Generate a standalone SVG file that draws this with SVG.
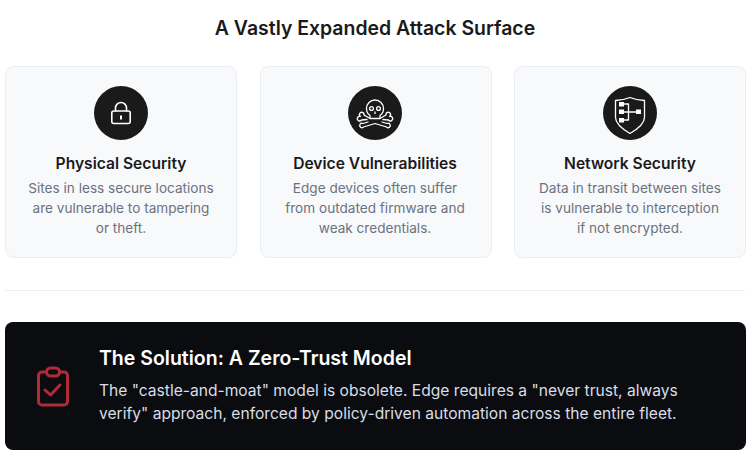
<svg xmlns="http://www.w3.org/2000/svg" width="750" height="452" viewBox="0 0 750 452">
<style>
text{font-family:Inter,"Liberation Sans",sans-serif}
.t{font-size:19.45px;font-weight:600;fill:#1a1a1a;text-anchor:middle}
.h{font-size:15.6px;font-weight:600;fill:#1a1a1a;text-anchor:middle}
.d{font-size:13.6px;fill:#6b7280;text-anchor:middle}
.card{fill:#f8f9fb;stroke:#eaedf1;stroke-width:1}
.disc{fill:#1a1a1a}
.ic{fill:none;stroke:#fff;stroke-width:1.6;stroke-linecap:round;stroke-linejoin:round}
.thin{stroke-width:1.3}
.w{fill:#fff}
.sh{font-size:19.5px;font-weight:600;fill:#fff}
.sd{font-size:15.6px;fill:#d8dde6}
</style>
<rect width="750" height="452" fill="#fff"/>
<text class="t" x="375" y="35">A Vastly Expanded Attack Surface</text>
<g id="card-physical">
<rect class="card" x="5.500" y="66.500" width="231" height="191" rx="8"/>
<circle class="disc" cx="121" cy="113" r="27"/>
<g class="ic"><rect x="111.800" y="111" width="18.400" height="12.500" rx="2"/><path d="M115.500 111v-3a5.500 5.500 0 0 1 11 0v3"/></g>
<rect class="w" x="120" y="115.500" width="2" height="4"/>
<text class="h" x="121" y="169">Physical Security</text>
<text class="d" x="121" y="193">Sites in less secure locations</text>
<text class="d" x="121" y="213">are vulnerable to tampering</text>
<text class="d" x="121" y="233">or theft.</text>
</g>
<g id="card-device">
<rect class="card" x="260.500" y="66.500" width="231" height="191" rx="8"/>
<circle class="disc" cx="375" cy="113" r="27"/>
<g class="ic thin">
<path d="M370 115.500c-2.200-1.500-3.500-4-3.500-7a8.500 8.500 0 0 1 17 0c0 3-1.300 5.500-3.500 7v3h-10z"/>
<circle cx="371.500" cy="108.500" r="1.900"/><circle cx="378.500" cy="108.500" r="1.900"/>
<path d="M375 112v1.500"/>
<path d="M370 118.500l-6-3.500a2.300 2.300 0 1 0-3.500 1.500 2.300 2.300 0 1 0 1 3.500l5.500-.5"/>
<path d="M380 118.500l6-3.500a2.300 2.300 0 1 1 3.500 1.500 2.300 2.300 0 1 1-1 3.500l-5.500-.5"/>
<path d="M368 122l-5 1.500a2.200 2.200 0 1 0 .5 3.500l11.500-3.500 11.500 3.500a2.200 2.200 0 1 0 .5-3.500l-5-1.500"/>
</g>
<text class="h" x="375" y="169">Device Vulnerabilities</text>
<text class="d" x="375" y="193">Edge devices often suffer</text>
<text class="d" x="375" y="213">from outdated firmware and</text>
<text class="d" x="375" y="233">weak credentials.</text>
</g>
<g id="card-network">
<rect class="card" x="514.500" y="66.500" width="231" height="191" rx="8"/>
<circle class="disc" cx="630" cy="113" r="27"/>
<g class="ic thin">
<path d="M630 97.500c5 2 10 3 14.500 3v17c0 6-6 11-14.500 16-8.500-5-14.500-10-14.500-16v-17c4.500 0 9.500-1 14.500-3z"/>
<path d="M624 104h4.500v16H624M624 112h12"/>
</g>
<rect class="w" x="619" y="102" width="5" height="4.500"/>
<rect class="w" x="619" y="109.500" width="5" height="4.500"/>
<rect class="w" x="619" y="118" width="5" height="4.500"/>
<rect class="w" x="636" y="109.500" width="5" height="4.500"/>
<text class="h" x="630" y="169">Network Security</text>
<text class="d" x="630" y="193">Data in transit between sites</text>
<text class="d" x="630" y="213">is vulnerable to interception</text>
<text class="d" x="630" y="233">if not encrypted.</text>
</g>
<path d="M5 290.500H745" stroke="#eceef1" stroke-width="1" fill="none"/>
<g id="solution">
<rect x="5" y="322" width="741" height="128" rx="8" fill="#0a0c10"/>
<g fill="none" stroke="#b02a37" stroke-width="3" stroke-linecap="round" stroke-linejoin="round">
<path d="M46.500 372H42a3.500 3.500 0 0 0-3.500 3.500v26a3.500 3.500 0 0 0 3.500 3.500h22a3.500 3.500 0 0 0 3.500-3.500v-26a3.500 3.500 0 0 0-3.500-3.500h-4.500"/>
<rect x="46.500" y="368" width="13" height="8" rx="4"/>
<path d="M45 390l5.500 5 9.500-10"/>
</g>
<text class="sh" x="99" y="365">The Solution: A Zero-Trust Model</text>
<text class="sd" x="99" y="396">The "castle-and-moat" model is obsolete. Edge requires a "never trust, always</text>
<text class="sd" x="99" y="419">verify" approach, enforced by policy-driven automation across the entire fleet.</text>
</g>
</svg>
